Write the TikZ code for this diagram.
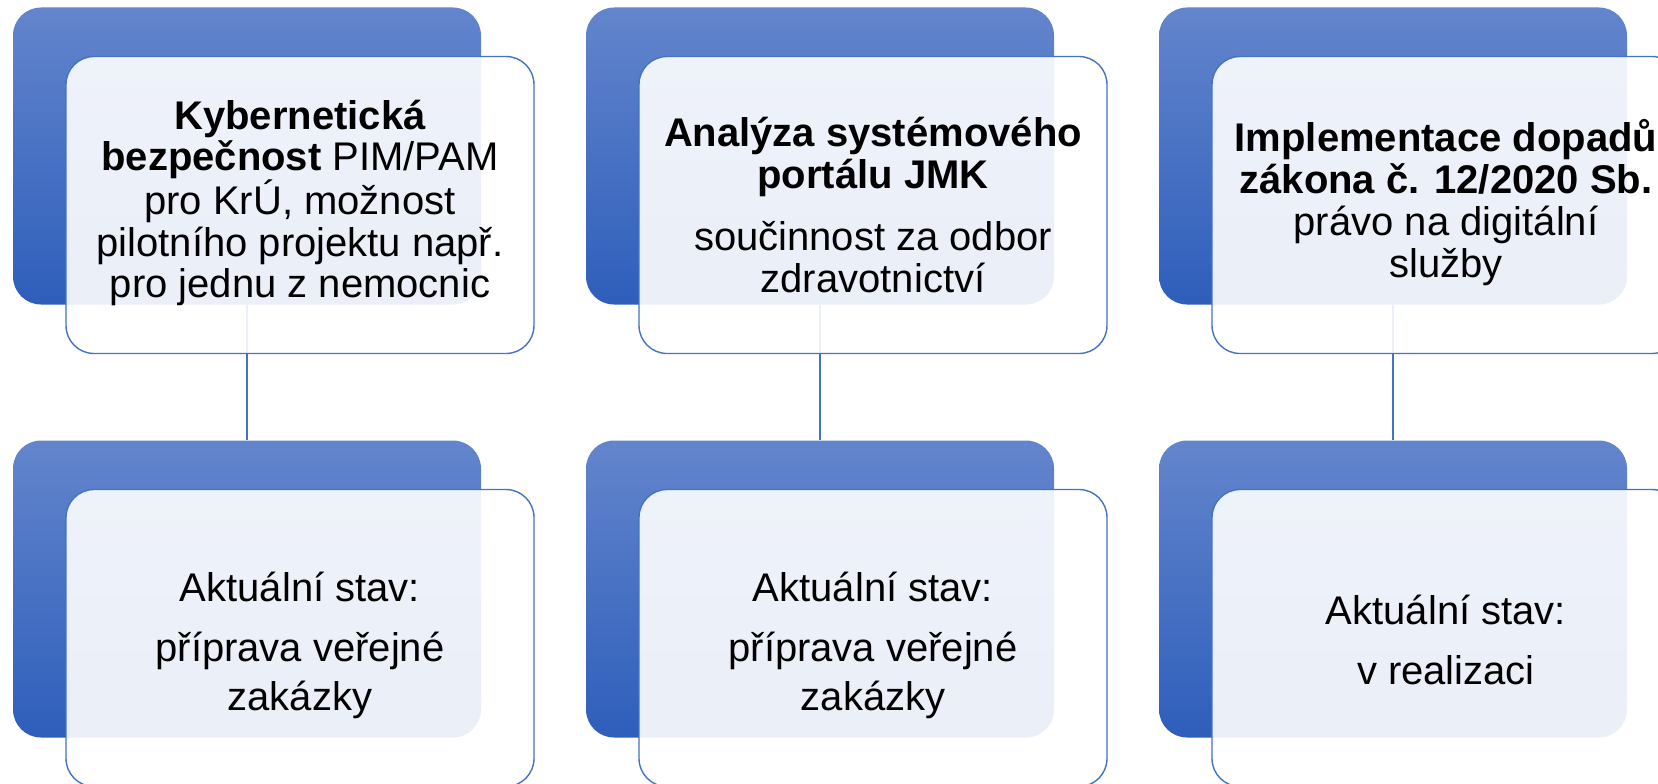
\documentclass[tikz,border=0pt]{standalone}
\usepackage{fontspec}
\setmainfont{Liberation Sans}
\definecolor{bluetop}{RGB}{99,133,204}
\definecolor{bluebot}{RGB}{46,94,187}
\definecolor{lineblue}{RGB}{68,114,196}
\tikzset{
  bluebox/.style={rounded corners=28pt, minimum width=468pt, minimum height=297pt,
    inner sep=0pt, top color=bluetop, bottom color=bluebot, draw=none},
  whitebox/.style={rounded corners=28pt, minimum width=468pt, minimum height=297pt,
    inner sep=0pt, fill=white, fill opacity=0.9, draw=lineblue,
    draw opacity=1, line width=1.4pt},
  boxtext/.style={align=center, text=black, inner sep=0pt,
    font=\fontsize{40}{42.5}\selectfont},
  lowtext/.style={boxtext, font=\fontsize{40}{49}\selectfont},
  conn/.style={draw=lineblue, line width=1.3pt}
}
\begin{document}
\begin{tikzpicture}[x=1pt,y=-1pt]
\useasboundingbox (0,0) rectangle (1658,784);
\clip (0,0) rectangle (1658,784);
% blue back boxes
\node[bluebox] (b1) at (247,156) {};
\node[bluebox] (b2) at (820,156) {};
\node[bluebox] (b3) at (1393,156) {};
\node[bluebox] (b4) at (247,589) {};
\node[bluebox] (b5) at (820,589) {};
\node[bluebox] (b6) at (1393,589) {};
% connectors
\draw[conn] (b1.south) -- (b4.north);
\draw[conn] (b2.south) -- (b5.north);
\draw[conn] (b3.south) -- (b6.north);
% white front boxes
\node[whitebox] (w1) at (300,205) {};
\node[whitebox] (w2) at (873,205) {};
\node[whitebox] (w3) at (1446,205) {};
\node[whitebox] (w4) at (300,638) {};
\node[whitebox] (w5) at (873,638) {};
\node[whitebox] (w6) at (1446,638) {};
% texts
\node[boxtext, font=\fontsize{40}{41.5}\selectfont] (t1) at ([yshift=2pt]w1.center) {\textbf{Kybernetická}\\\textbf{bezpečnost} PIM/PAM\\pro KrÚ, možnost\\pilotního projektu např.\\pro jednu z nemocnic};
\node[boxtext] (t2) at (w2.center) {\textbf{Analýza systémového}\\\textbf{portálu JMK}\\[19pt]součinnost za odbor\\zdravotnictví};
\node[boxtext, font=\fontsize{40}{42}\selectfont] (t3) at ([yshift=2pt]w3.center) {\textbf{Implementace dopadů}\\\textbf{zákona č. 12/2020 Sb.}\\právo na digitální\\služby};
\node[lowtext] (t4) at ([yshift=-7pt]w4.center) {Aktuální stav:\\[11pt]příprava veřejné\\zakázky};
\node[lowtext] (t5) at ([yshift=-7pt]w5.center) {Aktuální stav:\\[11pt]příprava veřejné\\zakázky};
\node[lowtext] (t6) at ([yshift=-2pt]w6.center) {Aktuální stav:\\[11pt]v realizaci};
\end{tikzpicture}
\end{document}
